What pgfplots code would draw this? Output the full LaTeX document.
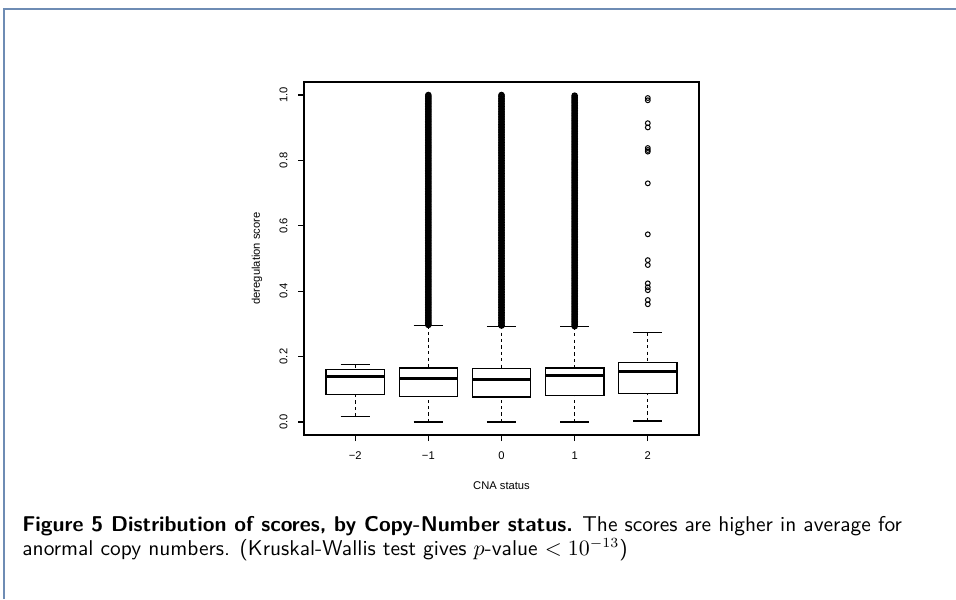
\documentclass[border=0pt]{standalone}
\usepackage{fontspec}
\usepackage{pgfplots}
\usepgfplotslibrary{statistics}
\pgfplotsset{compat=1.18}
\usepackage{pgfplotstable}
\newfontfamily\helv{Liberation Sans}
\newcommand\axfont{\helv\fontsize{5.6pt}{6.7pt}\selectfont}
\definecolor{framecol}{RGB}{110,140,180}
\pgfplotsset{
  boxplot/draw direction=y,
  boxplot/draw/lower whisker/.code={%
    \draw[dash pattern=on 1.6pt off 1.6pt]
      (boxplot box cs:\pgfplotsboxplotvalue{lower whisker},0.5) --
      (boxplot box cs:\pgfplotsboxplotvalue{lower quartile},0.5);
    \draw (boxplot whisker cs:\pgfplotsboxplotvalue{lower whisker},0) --
      (boxplot whisker cs:\pgfplotsboxplotvalue{lower whisker},1);
  },
  boxplot/draw/upper whisker/.code={%
    \draw[dash pattern=on 1.6pt off 1.6pt]
      (boxplot box cs:\pgfplotsboxplotvalue{upper whisker},0.5) --
      (boxplot box cs:\pgfplotsboxplotvalue{upper quartile},0.5);
    \draw (boxplot whisker cs:\pgfplotsboxplotvalue{upper whisker},0) --
      (boxplot whisker cs:\pgfplotsboxplotvalue{upper whisker},1);
  },
  boxplot/every box/.style={fill=white},
  boxplot/every median/.style={line width=1.5pt},
}
% outliers of group -1
\pgfplotstableread[row sep=\\]{
y\\
0.297\\0.300\\0.305\\0.310\\0.315\\0.320\\0.325\\0.330\\0.335\\0.340\\0.345\\
0.350\\0.355\\0.360\\0.365\\0.370\\0.375\\0.380\\0.385\\0.390\\0.395\\
0.400\\0.405\\0.410\\0.415\\0.420\\0.425\\0.430\\0.435\\0.440\\0.445\\
0.450\\0.455\\0.460\\0.465\\0.470\\0.475\\0.480\\0.485\\0.490\\0.495\\
0.500\\0.505\\0.510\\0.515\\0.520\\0.525\\0.530\\0.535\\0.540\\0.545\\
0.550\\0.555\\0.560\\0.565\\0.570\\0.575\\0.580\\0.585\\0.590\\0.595\\
0.600\\0.605\\0.610\\0.615\\0.620\\0.625\\0.630\\0.635\\0.640\\0.645\\
0.650\\0.655\\0.660\\0.665\\0.670\\0.675\\0.680\\0.685\\0.690\\0.695\\
0.700\\0.705\\0.710\\0.715\\0.720\\0.725\\0.730\\0.735\\0.740\\0.745\\
0.750\\0.755\\0.760\\0.765\\0.770\\0.775\\0.780\\0.785\\0.790\\0.795\\
0.800\\0.805\\0.810\\0.815\\0.820\\0.825\\0.830\\0.835\\0.840\\0.845\\
0.850\\0.855\\0.860\\0.865\\0.870\\0.875\\0.880\\0.885\\0.890\\0.895\\
0.900\\0.905\\0.910\\0.915\\0.920\\0.925\\0.930\\0.935\\0.940\\0.945\\
0.950\\0.955\\0.960\\0.965\\0.970\\0.975\\0.980\\0.985\\0.990\\0.995\\
1.000\\
}\outm
% outliers of group 0
\pgfplotstableread[row sep=\\]{
y\\
0.295\\0.300\\0.305\\0.310\\0.315\\0.320\\0.325\\0.330\\0.335\\0.340\\0.345\\
0.350\\0.355\\0.360\\0.365\\0.370\\0.375\\0.380\\0.385\\0.390\\0.395\\
0.400\\0.405\\0.410\\0.415\\0.420\\0.425\\0.430\\0.435\\0.440\\0.445\\
0.450\\0.455\\0.460\\0.465\\0.470\\0.475\\0.480\\0.485\\0.490\\0.495\\
0.500\\0.505\\0.510\\0.515\\0.520\\0.525\\0.530\\0.535\\0.540\\0.545\\
0.550\\0.555\\0.560\\0.565\\0.570\\0.575\\0.580\\0.585\\0.590\\0.595\\
0.600\\0.605\\0.610\\0.615\\0.620\\0.625\\0.630\\0.635\\0.640\\0.645\\
0.650\\0.655\\0.660\\0.665\\0.670\\0.675\\0.680\\0.685\\0.690\\0.695\\
0.700\\0.705\\0.710\\0.715\\0.720\\0.725\\0.730\\0.735\\0.740\\0.745\\
0.750\\0.755\\0.760\\0.765\\0.770\\0.775\\0.780\\0.785\\0.790\\0.795\\
0.800\\0.805\\0.810\\0.815\\0.820\\0.825\\0.830\\0.835\\0.840\\0.845\\
0.850\\0.855\\0.860\\0.865\\0.870\\0.875\\0.880\\0.885\\0.890\\0.895\\
0.900\\0.905\\0.910\\0.915\\0.920\\0.925\\0.930\\0.935\\0.940\\0.945\\
0.950\\0.955\\0.960\\0.965\\0.970\\0.975\\0.980\\0.985\\0.990\\0.995\\
1.000\\
}\outz
% outliers of group 1
\pgfplotstableread[row sep=\\]{
y\\
0.293\\0.298\\0.303\\0.308\\0.313\\0.318\\0.323\\0.328\\0.333\\0.338\\0.343\\
0.348\\0.353\\0.358\\0.363\\0.368\\0.373\\0.378\\0.383\\0.388\\0.393\\
0.398\\0.403\\0.408\\0.413\\0.418\\0.423\\0.428\\0.433\\0.438\\0.443\\
0.448\\0.453\\0.458\\0.463\\0.468\\0.473\\0.478\\0.483\\0.488\\0.493\\
0.498\\0.503\\0.508\\0.513\\0.518\\0.523\\0.528\\0.533\\0.538\\0.543\\
0.548\\0.553\\0.558\\0.563\\0.568\\0.573\\0.578\\0.583\\0.588\\0.593\\
0.598\\0.603\\0.608\\0.613\\0.618\\0.623\\0.628\\0.633\\0.638\\0.643\\
0.648\\0.653\\0.658\\0.663\\0.668\\0.673\\0.678\\0.683\\0.688\\0.693\\
0.698\\0.703\\0.708\\0.713\\0.718\\0.723\\0.728\\0.733\\0.738\\0.743\\
0.748\\0.753\\0.758\\0.763\\0.768\\0.773\\0.778\\0.783\\0.788\\0.793\\
0.798\\0.803\\0.808\\0.813\\0.818\\0.823\\0.828\\0.833\\0.838\\0.843\\
0.848\\0.853\\0.858\\0.863\\0.868\\0.873\\0.878\\0.883\\0.888\\0.893\\
0.898\\0.903\\0.908\\0.913\\0.918\\0.923\\0.928\\0.933\\0.938\\0.943\\
0.948\\0.953\\0.958\\0.963\\0.968\\0.973\\0.978\\0.983\\0.988\\0.993\\
0.998\\
}\outp
\begin{document}
\begin{tikzpicture}
\useasboundingbox (0,0) rectangle (478pt,299.5pt);
\fill[white] (0,0) rectangle (478pt,299.5pt);
\draw[framecol, line width=1pt] (2pt,0) -- (2pt,295pt) -- (478pt,295pt);
\begin{axis}[
  at={(152pt,82pt)}, anchor=south west,
  scale only axis, width=197.5pt, height=176.5pt,
  xmin=-2.7, xmax=2.7, ymin=-0.04, ymax=1.04,
  xtick={-2,-1,0,1,2}, xticklabels={−2,−1,0,1,2},
  ytick={0,0.2,0.4,0.6,0.8,1.0}, yticklabels={0.0,0.2,0.4,0.6,0.8,1.0},
  xtick pos=left, ytick pos=left, tick align=outside,
  major tick length=3pt,
  every tick/.style={black, line width=0.6pt},
  axis line style={line width=0.6pt},
  xticklabel style={font=\axfont, inner sep=0pt, anchor=north, yshift=-5pt},
  yticklabel style={font=\axfont, inner sep=0pt, xshift=-5pt, rotate=90, anchor=south},
  xlabel={CNA status}, ylabel={deregulation score},
  xlabel style={font=\axfont, at={(axis description cs:0.5,-0.1445)}, anchor=center},
  ylabel style={font=\axfont, at={(axis description cs:-0.119,0.5)}, anchor=center},
  clip=false,
]
\addplot[black, line width=0.6pt, boxplot prepared={draw position=-2,
  lower whisker=0.017, lower quartile=0.085, median=0.140,
  upper quartile=0.160, upper whisker=0.176, box extend=0.8, whisker extend=0.4}] coordinates {};
\addplot[black, line width=0.6pt, boxplot prepared={draw position=-1,
  lower whisker=0.0, lower quartile=0.077, median=0.133,
  upper quartile=0.165, upper whisker=0.295, box extend=0.8, whisker extend=0.4}] coordinates {};
\addplot[black, line width=0.6pt, boxplot prepared={draw position=0,
  lower whisker=0.0, lower quartile=0.076, median=0.129,
  upper quartile=0.1625, upper whisker=0.293, box extend=0.8, whisker extend=0.4}] coordinates {};
\addplot[black, line width=0.6pt, boxplot prepared={draw position=1,
  lower whisker=0.0, lower quartile=0.082, median=0.141,
  upper quartile=0.165, upper whisker=0.291, box extend=0.8, whisker extend=0.4}] coordinates {};
\addplot[black, line width=0.6pt, boxplot prepared={draw position=2,
  lower whisker=0.003, lower quartile=0.088, median=0.154,
  upper quartile=0.183, upper whisker=0.274, box extend=0.8, whisker extend=0.4}] coordinates {};
\addplot[only marks, mark=o, mark size=1.2pt, black, line width=0.9pt] table[x expr=-1, y=y] {\outm};
\addplot[only marks, mark=o, mark size=1.2pt, black, line width=0.9pt] table[x expr=0, y=y] {\outz};
\addplot[only marks, mark=o, mark size=1.2pt, black, line width=0.9pt] table[x expr=1, y=y] {\outp};
\addplot[only marks, mark=o, mark size=1.2pt, black, line width=0.5pt] coordinates {
  (2,0.991) (2,0.984) (2,0.914) (2,0.901) (2,0.838) (2,0.832) (2,0.827)
  (2,0.730) (2,0.574) (2,0.495) (2,0.480) (2,0.424) (2,0.412) (2,0.403)
  (2,0.373) (2,0.360)};
\end{axis}
\node[anchor=base west, inner sep=0pt, font=\sffamily\fontsize{10.7pt}{12pt}\selectfont] at (11pt,34pt)
  {\textbf{Figure 5 Distribution of scores, by Copy-Number status.} The scores are higher in average for};
\node[anchor=base west, inner sep=0pt, font=\sffamily\fontsize{10.7pt}{12pt}\selectfont] at (11pt,22pt)
  {anormal copy numbers. (Kruskal-Wallis test gives $p$-value $< 10^{-13}$)};
\end{tikzpicture}
\end{document}
